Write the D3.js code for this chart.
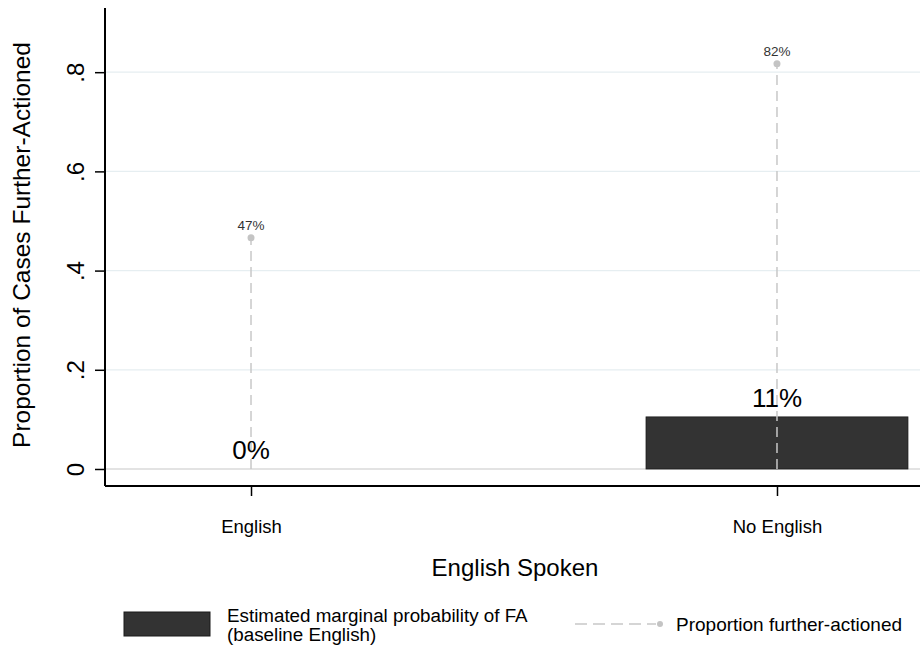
<!DOCTYPE html>
<html>
<head>
<meta charset="utf-8">
<script src="https://cdn.jsdelivr.net/npm/d3@7"></script>
<style>
  body { margin: 0; background: #fff; }
  text { font-family: "Liberation Sans", Arial, sans-serif; fill: #000; }
</style>
</head>
<body>
<svg id="chart" width="920" height="650"></svg>
<script>
// data
const groups = ["English", "No English"];
const marginal = [0, 0.105];        // estimated marginal probability of FA
const proportion = [0.466, 0.817];  // proportion further-actioned
const marginalLabels = ["0%", "11%"];
const proportionLabels = ["47%", "82%"];
const yTicks = [0, 0.2, 0.4, 0.6, 0.8];

const svg = d3.select("#chart");

const plotLeft = 105, plotRight = 920, plotTop = 8, plotBottom = 486;

const yScale = d3.scaleLinear()
  .domain([-0.0343, 0.9294])
  .range([plotBottom, plotTop]);

// groups placed at 0 and 1 on a numeric axis, like the original
const xScale = d3.scaleLinear()
  .domain([-0.2776, 1.2719])
  .range([plotLeft, plotRight]);

const barHalf = 0.249;

// gridlines
svg.append("g")
  .selectAll("line")
  .data(yTicks)
  .join("line")
    .attr("x1", plotLeft)
    .attr("x2", plotRight)
    .attr("y1", d => yScale(d))
    .attr("y2", d => yScale(d))
    .attr("stroke", d => d === 0 ? "#c8c8c8" : "#e6eef1")
    .attr("stroke-width", 1.2);

// bars
svg.append("g")
  .selectAll("rect")
  .data(marginal)
  .join("rect")
    .attr("x", (d, i) => xScale(i - barHalf))
    .attr("width", (d, i) => xScale(i + barHalf) - xScale(i - barHalf))
    .attr("y", d => yScale(d))
    .attr("height", d => yScale(0) - yScale(d))
    .attr("fill", "#333333")
    .attr("stroke", "#1a1a1a")
    .attr("stroke-width", d => d > 0 ? 0.8 : 0);

// dashed drop lines + dots
const drops = svg.append("g");
drops.selectAll("line")
  .data(proportion)
  .join("line")
    .attr("x1", (d, i) => xScale(i))
    .attr("x2", (d, i) => xScale(i))
    .attr("y1", yScale(0))
    .attr("y2", d => yScale(d))
    .attr("stroke", "#c8c8c8")
    .attr("stroke-width", 1.5)
    .attr("stroke-dasharray", "10 6");

drops.selectAll("circle")
  .data(proportion)
  .join("circle")
    .attr("cx", (d, i) => xScale(i))
    .attr("cy", d => yScale(d))
    .attr("r", 3.5)
    .attr("fill", "#c4c4c4");

drops.selectAll("text")
  .data(proportion)
  .join("text")
    .attr("x", (d, i) => xScale(i))
    .attr("y", d => yScale(d) - 8)
    .attr("text-anchor", "middle")
    .attr("font-size", 13.5)
    .style("fill", "#333")
    .text((d, i) => proportionLabels[i]);

// bar labels
svg.append("g")
  .selectAll("text")
  .data(marginal)
  .join("text")
    .attr("x", (d, i) => xScale(i))
    .attr("y", d => yScale(d) - 10)
    .attr("text-anchor", "middle")
    .attr("font-size", 26)
    .text((d, i) => marginalLabels[i]);

// y axis
const yAxis = svg.append("g")
  .attr("transform", `translate(${plotLeft},0)`)
  .call(d3.axisLeft(yScale)
    .tickValues(yTicks)
    .tickSize(10)
    .tickFormat(d => d === 0 ? "0" : d3.format(".1f")(d).replace(/^0/, "")));
yAxis.select(".domain").attr("d", `M0,${plotTop}V${plotBottom}`).attr("stroke", "#000").attr("stroke-width", 2);
yAxis.selectAll(".tick line").attr("stroke", "#000").attr("stroke-width", 1.5);
yAxis.selectAll(".tick text")
  .attr("x", 0).attr("dy", null)
  .attr("transform", "translate(-30,0) rotate(-90)")
  .attr("text-anchor", "middle")
  .attr("dominant-baseline", "central")
  .attr("font-size", 24)
  .style("font-family", "'Liberation Sans', Arial, sans-serif")
  .style("fill", "#000");

// x axis
const xAxis = svg.append("g")
  .attr("transform", `translate(0,${plotBottom})`)
  .call(d3.axisBottom(xScale)
    .tickValues([0, 1])
    .tickSize(10)
    .tickFormat((d, i) => groups[i]));
xAxis.select(".domain").attr("d", `M${plotLeft},0H${plotRight}`).attr("stroke", "#000").attr("stroke-width", 2);
xAxis.selectAll(".tick line").attr("stroke", "#000").attr("stroke-width", 1.5);
xAxis.selectAll(".tick text")
  .attr("y", 47)
  .attr("dy", null)
  .attr("font-size", 18.5)
  .style("font-family", "'Liberation Sans', Arial, sans-serif")
  .style("fill", "#000");

// axis titles
svg.append("text")
  .attr("transform", `translate(30,${(plotTop + plotBottom) / 2 - 2}) rotate(-90)`)
  .attr("text-anchor", "middle")
  .attr("font-size", 24.5)
  .text("Proportion of Cases Further-Actioned");

svg.append("text")
  .attr("x", 515)
  .attr("y", 576)
  .attr("text-anchor", "middle")
  .attr("font-size", 24)
  .text("English Spoken");

// legend
const legend = svg.append("g");
legend.append("rect")
  .attr("x", 124).attr("y", 612)
  .attr("width", 86).attr("height", 24)
  .attr("fill", "#333333")
  .attr("stroke", "#1a1a1a");
legend.append("text")
  .attr("x", 227).attr("y", 622)
  .attr("font-size", 18.8)
  .text("Estimated marginal probability of FA");
legend.append("text")
  .attr("x", 227).attr("y", 641)
  .attr("font-size", 18.8)
  .text("(baseline English)");

legend.append("line")
  .attr("x1", 575).attr("x2", 656)
  .attr("y1", 624).attr("y2", 624)
  .attr("stroke", "#c8c8c8")
  .attr("stroke-width", 1.5)
  .attr("stroke-dasharray", "12 6");
legend.append("circle")
  .attr("cx", 660).attr("cy", 624)
  .attr("r", 3)
  .attr("fill", "#c4c4c4");
legend.append("text")
  .attr("x", 676).attr("y", 631)
  .attr("font-size", 19)
  .text("Proportion further-actioned");
</script>
</body>
</html>
